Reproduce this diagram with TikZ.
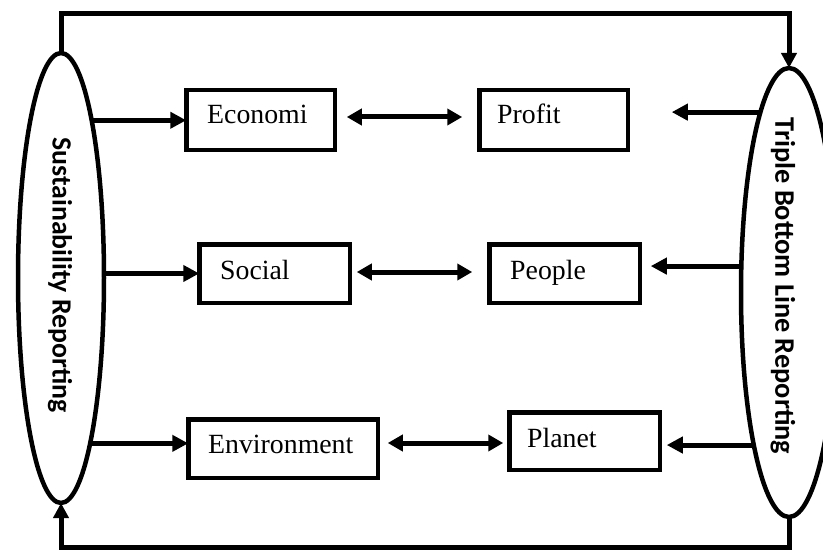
\documentclass[tikz,border=0pt]{standalone}
\usepackage{fontspec}
\setmainfont{Liberation Serif}
\newfontfamily\sidefont{Carlito}
\usetikzlibrary{shapes.geometric,arrows.meta,calc}
\begin{document}
\begin{tikzpicture}[x=1pt,y=-1pt,
  oval/.style={ellipse,draw,line width=4.5pt,inner sep=0pt,outer sep=0pt},
  ovaltext/.style={font=\sidefont\bfseries,rotate=-90,inner sep=0pt},
  box/.style={draw,line width=4.5pt,inner sep=0pt,outer sep=0pt},
  boxtext/.style={font=\fontsize{27.8}{30}\selectfont,anchor=base west,inner sep=0pt},
  link/.style={line width=5pt,-{Triangle[length=16pt,width=16pt]}},
  dbl/.style={line width=5pt,{Triangle[length=15pt,width=16pt]}-{Triangle[length=15pt,width=16pt]}},
  frame/.style={line width=5pt,miter limit=10,-{Triangle[length=15pt,width=15pt]}}]
\useasboundingbox (0,0) rectangle (823,551);

% the two reporting ellipses
\node[oval,minimum width=86pt,minimum height=450pt] (SR) at (61,278) {};
\node[ovaltext,font=\sidefont\bfseries\fontsize{27.8}{30}\selectfont] (SRt) at (60,275) {Sustainability Reporting};
\node[oval,minimum width=96pt,minimum height=449pt] (TB) at (789,292.5) {};
\node[ovaltext,font=\sidefont\bfseries\fontsize{28.3}{30}\selectfont] (TBt) at (783,286) {Triple Bottom Line Reporting};

% boxes
\node[box,minimum width=148.5pt,minimum height=59.5pt] (E) at (260.5,120) {};
\node[boxtext] (Et) at (207,124) {Economi};
\node[box,minimum width=148.5pt,minimum height=59.5pt] (P) at (553.5,120) {};
\node[boxtext] (Pt) at (497,124) {Profit};
\node[box,minimum width=150.5pt,minimum height=58.5pt] (So) at (274.5,273.5) {};
\node[boxtext] (Sot) at (220,279) {Social};
\node[box,minimum width=150.5pt,minimum height=58.5pt] (Pe) at (564.5,273.5) {};
\node[boxtext] (Pet) at (510,279) {People};
\node[box,minimum width=189.5pt,minimum height=58.5pt] (En) at (283,448.5) {};
\node[boxtext] (Ent) at (208,453) {Environment};
\node[box,minimum width=150.5pt,minimum height=57.5pt] (Pl) at (584.5,441) {};
\node[boxtext] (Plt) at (527,447) {Planet};

% left ellipse to the first column
\draw[link] (SR.79.3) -- (SR.79.3 -| E.west);
\draw[link] (SR.6.6) -- (SR.6.6 -| So.west);
\draw[link] (SR.-80.7) -- (SR.-80.7 -| En.west);

% pairs in each row
\draw[dbl] ($(E.east)+(12,-3)$) -- ($(P.west)+(-17,-3)$);
\draw[dbl] ($(So.east)+(7,-1.5)$) -- ($(Pe.west)+(-17,-1.5)$);
\draw[dbl] ($(En.east)+(10,-5.5)$) -- ($(Pl.west)+(-6,2)$);

% right ellipse to the second column
\draw[link] (TB.99) -- ($(TB.99 -| P.east)+(44,0)$);
\draw[link] (TB.151.9) -- ($(TB.151.9 -| Pe.east)+(11,0)$);
\draw[link] (TB.-103.8) -- ($(TB.-103.8 -| Pl.east)+(7,0)$);

% outer loop between the ellipses
\coordinate (topy) at (0,14);
\coordinate (boty) at (0,547);
\draw[frame] (SR.north) -- (SR.north |- topy) -| (TB.north);
\draw[frame] (TB.south) -- (TB.south |- boty) -| (SR.south);
\end{tikzpicture}
\end{document}
